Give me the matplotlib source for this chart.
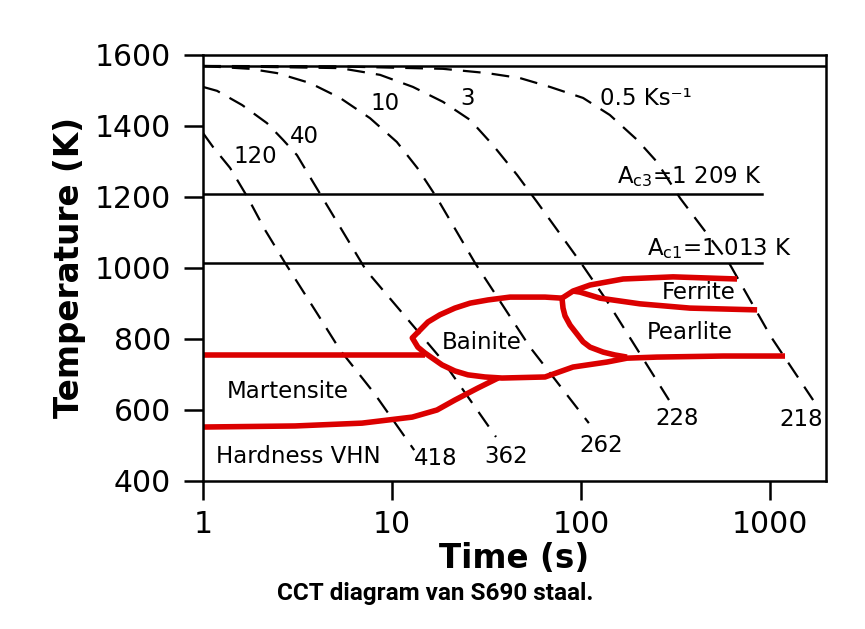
import numpy as np
import matplotlib
matplotlib.use("Agg")
import matplotlib.pyplot as plt
from matplotlib.ticker import FixedLocator, FixedFormatter, NullLocator

# ----------------------------
# cooling curves (t in s, T in K)
# ----------------------------
cool_120_t = [1.0, 1.129, 1.39, 1.73, 2.13, 2.72, 4.06, 5.31, 8.03, 13.1]
cool_120_T = [1380, 1341, 1282, 1197, 1107, 1014, 868, 769, 648, 487]

cool_40_t = [1.0, 1.186, 1.61, 2.18, 2.65, 3.14, 3.82, 4.42, 7.28, 18.4, 35.5]
cool_40_T = [1510, 1499, 1459, 1408, 1361, 1318, 1242, 1186, 994, 741, 524]

cool_10_t = [1.0, 1.77, 2.46, 3.68, 5.31, 7.65, 10.6, 13.6, 17.3, 27.5, 53.7, 110]
cool_10_T = [1569, 1561, 1549, 1521, 1479, 1422, 1355, 1282, 1197, 1014, 777, 563]

cool_3_t = [1.0, 5.31, 8.64, 12.9, 18.6, 25.9, 34.2, 45.9, 58.5, 100, 136, 292]
cool_3_T = [1569, 1563, 1544, 1510, 1468, 1417, 1346, 1262, 1186, 1014, 910, 628]

cool_05_t = [1.0, 5.0, 18.6, 31.8, 47.5, 68.5, 102.5, 142, 198, 252, 334,
             607, 1012, 1690]
cool_05_T = [1569, 1568, 1561, 1549, 1535, 1510, 1479, 1431, 1361, 1299, 1197,
             1014, 806, 628]

# ----------------------------
# transformation lines
# ----------------------------
ms_t = [1.0, 14.9]
ms_T = [755, 755]

bain_t = [79.3, 64.5, 52.4, 42.1, 32.2, 25.9, 21.5, 17.9, 15.5, 12.8,
          13.7, 14.9, 18.4, 21.5, 25.2, 31.0, 38.2,
          64.5, 90.7, 137, 175, 252, 564, 1200]
bain_T = [915, 918, 918, 918, 910, 901, 887, 868, 848, 803,
          777, 761, 727, 710, 699, 693, 690,
          693, 721, 735, 746, 749, 752, 752]

mf_t = [1.0, 3.07, 6.94, 12.8, 17.3, 21.5, 28.5, 36.4]
mf_T = [552, 555, 563, 580, 600, 628, 662, 690]

ferr_s_t = [79.3, 90.7, 111.6, 167, 307, 669]
ferr_s_T = [915, 935, 952, 969, 975, 969]

ferr_f_t = [90.7, 98.8, 126, 205, 377, 854]
ferr_f_T = [935, 932, 915, 899, 887, 882]

pearl_f_t = [79.3, 80.3, 82.3, 87.5, 102.5, 111.6, 131, 151, 175]
pearl_f_T = [915, 887, 865, 839, 792, 777, 763, 755, 749]

# critical temperatures
T_top = 1570
Ac3 = 1209
Ac1 = 1013
t_line_end = 907

x_ticks = [1, 10, 100, 1000]
y_ticks = [400, 600, 800, 1000, 1200, 1400, 1600]

RED = "#db0000"
LW = 1.8

fig = plt.figure(figsize=(8.65, 6.29), dpi=100)
ax = fig.add_axes([0.2347, 0.2353, 0.7202, 0.6773])

for t, T in [(cool_120_t, cool_120_T), (cool_40_t, cool_40_T),
             (cool_10_t, cool_10_T), (cool_3_t, cool_3_T),
             (cool_05_t, cool_05_T)]:
    ax.plot(t, T, color="black", lw=1.6, ls=(0, (8, 5)))

ax.axhline(T_top, color="black", lw=LW)
ax.plot([1, t_line_end], [Ac3, Ac3], color="black", lw=LW)
ax.plot([1, t_line_end], [Ac1, Ac1], color="black", lw=LW)

for t, T in [(ms_t, ms_T), (bain_t, bain_T), (mf_t, mf_T),
             (ferr_s_t, ferr_s_T), (ferr_f_t, ferr_f_T),
             (pearl_f_t, pearl_f_T)]:
    ax.plot(t, T, color=RED, lw=4.0, solid_capstyle="butt",
            solid_joinstyle="round")

fs = 16.5
txt = dict(fontsize=fs, ha="left", va="center")
ax.text(126, 1476, "0.5 Ks\u207b\u00b9", **txt)
ax.text(22.9, 1476, "3", **txt)
ax.text(7.65, 1462, "10", **txt)
ax.text(2.89, 1369, "40", **txt)
ax.text(1.44, 1313, "120", **txt)
ax.text(907, 1239, r"A$_\mathregular{c3}$=1 209 K", fontsize=fs,
        ha="right", va="baseline")
ax.text(1306, 1037, r"A$_\mathregular{c1}$=1 013 K", fontsize=fs,
        ha="right", va="baseline")
ax.text(268, 930, "Ferrite", **txt)
ax.text(223, 817, "Pearlite", **txt)
ax.text(18.4, 789, "Bainite", **txt)
ax.text(1.34, 651, "Martensite", **txt)
ax.text(1.17, 468, "Hardness VHN", **txt)
ax.text(13.1, 462, "418", **txt)
ax.text(30.7, 470, "362", **txt)
ax.text(97.6, 499, "262", **txt)
ax.text(246, 575, "228", **txt)
ax.text(1116, 572, "218", **txt)

ax.set_xscale("log")
ax.set_xlim(1, 1977)
ax.set_ylim(400, 1600)
ax.xaxis.set_major_locator(FixedLocator(x_ticks))
ax.xaxis.set_major_formatter(FixedFormatter([str(v) for v in x_ticks]))
ax.xaxis.set_minor_locator(NullLocator())
ax.set_yticks(y_ticks)

ax.tick_params(axis="both", direction="out", length=14, width=LW,
               labelsize=21.5)
ax.tick_params(axis="x", pad=7)
ax.tick_params(axis="y", pad=9)
for s in ax.spines.values():
    s.set_linewidth(LW)

ax.set_xlabel("Time (s)", fontsize=23.5, fontweight="bold", labelpad=2)
ax.set_ylabel("Temperature (K)", fontsize=23.5, fontweight="bold", labelpad=6)

fig.text(0.503, 0.057, "CCT diagram van S690 staal.", ha="center",
         va="center", fontsize=17.5, fontweight="bold", family="Roboto")

fig.savefig("out.png", dpi=100)
